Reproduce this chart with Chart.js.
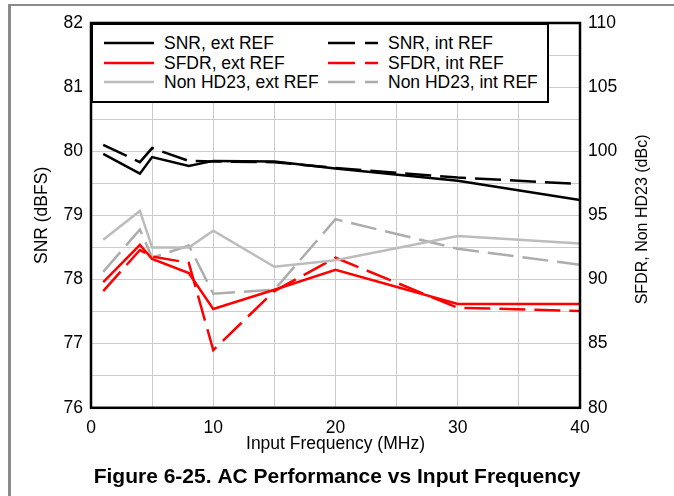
<!DOCTYPE html>
<html>
<head>
<meta charset="utf-8">
<title>AC Performance vs Input Frequency</title>
<script src="https://cdn.jsdelivr.net/npm/chart.js@4.4.0/dist/chart.umd.min.js"></script>
<style>
    html, body { margin: 0; padding: 0; background: #fff; }
    #wrap {
        position: relative;
        width: 674px;
        height: 496px;
        overflow: hidden;
        font-family: "Liberation Sans", Arial, sans-serif;
    }
    #page-frame {
        position: absolute;
        left: 8px;
        top: 4px;
        right: -10px;
        bottom: -10px;
        border-top: 2px solid #8a8a8a;
        border-left: 3px solid #8a8a8a;
    }
    #chart { position: absolute; left: 0; top: 0; }
    #legend {
        position: absolute;
        left: 91px;
        top: 23px;
        width: 458px;
        height: 80px;
        box-sizing: border-box;
        background: #fff;
        border: 2px solid #000;
    }
    .legend-item {
        position: absolute;
        height: 20px;
        font-size: 17.5px;
        line-height: 20px;
        color: #000;
        white-space: nowrap;
    }
    .legend-item svg { position: absolute; left: 0; top: 0; }
    .legend-item span { position: absolute; left: 60px; top: 0; }
</style>
</head>
<body>
<div id="wrap">
    <div id="page-frame"></div>
    <canvas id="chart" width="674" height="496"></canvas>
    <div id="legend"></div>
</div>
<script>
// === DATA ===
const freqs = [1, 4, 5, 8, 10, 15, 20, 30, 40];

// SNR (dBFS), left axis
const snrExt = [79.96, 79.65, 79.91, 79.77, 79.85, 79.84, 79.73, 79.54, 79.24];
const snrInt = [80.10, 79.83, 80.05, 79.85, 79.84, 79.83, 79.74, 79.59, 79.49];

// SFDR / Non HD23 (dBc), right axis
const sfdrExt = [89.8, 92.7, 91.6, 90.5, 87.7, 89.2, 90.75, 88.1, 88.1];
const sfdrInt = [89.1, 92.3, 91.8, 91.3, 84.5, 89.1, 91.7, 87.8, 87.55];
const hd23Ext = [93.1, 95.35, 92.5, 92.5, 93.8, 91.0, 91.5, 93.4, 92.8];
const hd23Int = [90.6, 93.9, 91.7, 92.65, 88.9, 89.2, 94.7, 92.4, 91.15];

const seriesLabels = [
    'SNR, ext REF', 'SFDR, ext REF', 'Non HD23, ext REF',
    'SNR, int REF', 'SFDR, int REF', 'Non HD23, int REF'
];
const xTickLabels = [0, 10, 20, 30, 40];
const axisTitles = {
    x: 'Input Frequency (MHz)',
    y: 'SNR (dBFS)',
    y2: 'SFDR, Non HD23 (dBc)'
};
const caption = 'Figure 6-25. AC Performance vs Input Frequency';

// === HELPERS ===
function toPoints(values) {
    return values.map((v, i) => ({ x: freqs[i], y: v }));
}

const DASH = [26, 9];
const FONT = '"Liberation Sans", Arial, sans-serif';
const FONT_SIZE = 17.5;

function series(label, values, color, axis, dashed) {
    return {
        label: label,
        data: toPoints(values),
        yAxisID: axis,
        borderColor: color,
        backgroundColor: color,
        borderWidth: 2.5,
        borderDash: dashed ? DASH : [],
        pointRadius: 0,
        tension: 0,
        fill: false
    };
}

// === PLUGINS ===
// plot frame drawn on top of grid and lines
const plotFrame = {
    id: 'plotFrame',
    afterDatasetsDraw(chart) {
        const a = chart.chartArea;
        const ctx = chart.ctx;
        ctx.save();
        ctx.strokeStyle = '#000';
        ctx.lineWidth = 2.5;
        ctx.strokeRect(a.left, a.top, a.right - a.left, a.bottom - a.top);
        ctx.restore();
    }
};

// right axis title reads bottom-to-top, like the left one
const rightTitle = {
    id: 'rightTitle',
    afterDraw(chart) {
        const s = chart.scales.y2;
        const a = chart.chartArea;
        const ctx = chart.ctx;
        ctx.save();
        ctx.translate(s.right - 31, (a.top + a.bottom) / 2 + 4);
        ctx.rotate(-Math.PI / 2);
        ctx.font = '16px ' + FONT;
        ctx.fillStyle = '#000';
        ctx.textAlign = 'center';
        ctx.textBaseline = 'middle';
        ctx.fillText(axisTitles.y2, 0, 0);
        ctx.restore();
    }
};

// legend box inside the plot, two columns (ext / int)
const htmlLegend = {
    id: 'htmlLegend',
    afterUpdate(chart) {
        const box = document.getElementById('legend');
        box.innerHTML = '';
        chart.data.datasets.forEach((ds, i) => {
            const col = Math.floor(i / 3);
            const row = i % 3;
            const item = document.createElement('div');
            item.className = 'legend-item';
            item.style.left = (col === 0 ? 11 : 235) + 'px';
            item.style.top = [8, 28, 47][row] + 'px';
            const dash = ds.borderDash.length ? 'stroke-dasharray="27 10 13 60"' : '';
            item.innerHTML =
                '<svg width="50" height="20"><line x1="0" y1="10" x2="50" y2="10" stroke="' +
                ds.borderColor + '" stroke-width="2.5" ' + dash + '/></svg>' +
                '<span>' + ds.label + '</span>';
            box.appendChild(item);
        });
    }
};

// === CHART ===
Chart.defaults.font.family = FONT;
Chart.defaults.font.size = FONT_SIZE;
Chart.defaults.color = '#000';

const GRID = '#cccccc';

new Chart(document.getElementById('chart'), {
    type: 'line',
    data: {
        datasets: [
            series(seriesLabels[0], snrExt, '#000000', 'y', false),
            series(seriesLabels[1], sfdrExt, '#ff0000', 'y2', false),
            series(seriesLabels[2], hd23Ext, '#bcbcbc', 'y2', false),
            series(seriesLabels[3], snrInt, '#000000', 'y', true),
            series(seriesLabels[4], sfdrInt, '#ff0000', 'y2', true),
            series(seriesLabels[5], hd23Int, '#acacac', 'y2', true)
        ]
    },
    options: {
        responsive: false,
        animation: false,
        devicePixelRatio: 1,
        layout: { padding: { top: 23, left: 0, right: 0, bottom: 0 } },
        plugins: {
            legend: { display: false },
            tooltip: { enabled: false },
            title: {
                display: true,
                position: 'bottom',
                text: caption,
                color: '#000',
                font: { size: 21, weight: 'bold' },
                padding: { top: 7, bottom: 6 }
            }
        },
        scales: {
            x: {
                type: 'linear',
                min: 0,
                max: 40,
                afterFit: s => { s.height = 50; },
                ticks: {
                    stepSize: 5,
                    autoSkip: false,
                    maxRotation: 0,
                    padding: 10,
                    callback: v => xTickLabels.includes(v) ? v : ''
                },
                grid: { color: GRID, lineWidth: 1, drawTicks: false },
                border: { display: false },
                title: {
                    display: true,
                    text: axisTitles.x,
                    padding: { top: 0, bottom: 3 }
                }
            },
            y: {
                position: 'left',
                min: 76,
                max: 82,
                afterFit: s => { s.width = 91; },
                ticks: {
                    stepSize: 0.5,
                    autoSkip: false,
                    padding: 8,
                    callback: v => Number.isInteger(v) ? v : ''
                },
                grid: { color: GRID, lineWidth: 1, drawTicks: false },
                border: { display: false },
                title: {
                    display: true,
                    text: axisTitles.y,
                    padding: { top: 32, bottom: 0 }
                }
            },
            y2: {
                position: 'right',
                min: 80,
                max: 110,
                afterFit: s => { s.width = 94; },
                ticks: { stepSize: 5, autoSkip: false, padding: 8 },
                grid: { drawOnChartArea: false, drawTicks: false },
                border: { display: false }
            }
        }
    },
    plugins: [plotFrame, rightTitle, htmlLegend]
});
</script>
</body>
</html>
